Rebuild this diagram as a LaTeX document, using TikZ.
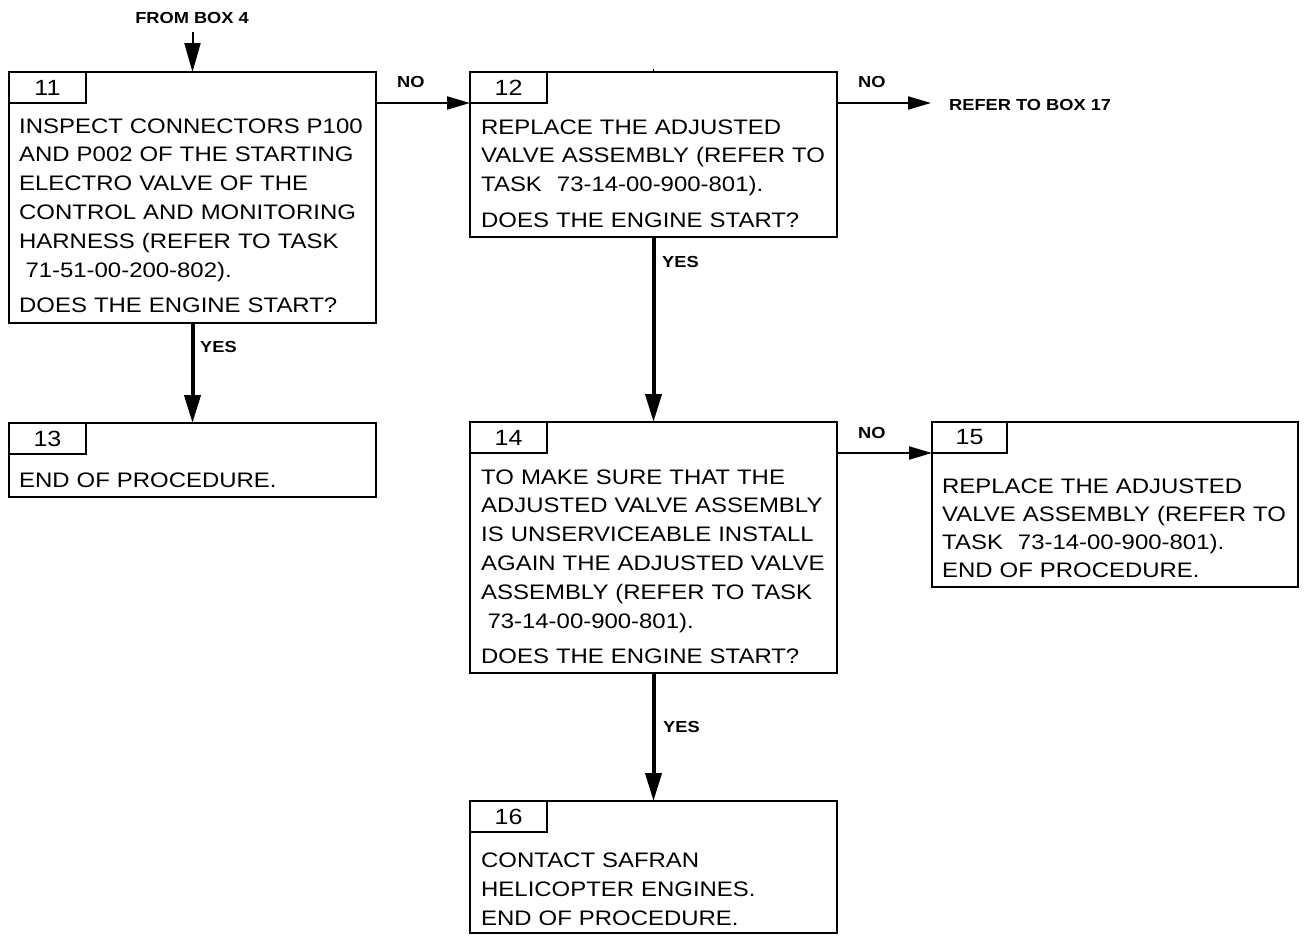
\documentclass[tikz,border=0pt]{standalone}
\usepackage{fontspec}
\setmainfont{Liberation Sans}[FakeStretch=1.14]
\usetikzlibrary{arrows.meta,calc}
\begin{document}
\begin{tikzpicture}[x=1pt,y=-1pt,
  boxframe/.style={draw,line width=2.8pt,anchor=north west,inner sep=0pt,outer sep=0pt,minimum width=367pt},
  numtab/.style={draw,line width=2.8pt,anchor=north west,inner sep=0pt,outer sep=0pt,
    minimum width=77pt,minimum height=31pt,font=\fontsize{22}{24}\selectfont},
  boxtext/.style={anchor=base west,inner sep=0pt,text width=360pt,align=left,
    font=\fontsize{21}{28.8}\selectfont},
  flowlabel/.style={anchor=base west,inner sep=0pt,font=\fontsize{16}{18}\selectfont\bfseries},
  yesarrow/.style={line width=4pt,-{Triangle[length=28pt,width=16pt]}},
  noarrow/.style={line width=2pt,-{Triangle[length=23pt,width=13pt]}},
]
\useasboundingbox (0,0) rectangle (1304,938);

% ---- boxes ----
\node[boxframe,minimum height=251pt] (b11) at (9,72) {};
\node[numtab] (b11n) at (b11.north west) {11};
\node[boxtext] (b11t) at (19,133) {INSPECT CONNECTORS P100\\AND P002 OF THE STARTING\\ELECTRO VALVE OF THE\\CONTROL AND MONITORING\\HARNESS (REFER TO TASK\\\hspace*{0.3em}71-51-00-200-802).\\[7pt]DOES THE ENGINE START?};

\node[boxframe,minimum height=165pt] (b12) at (470,72) {};
\node[numtab] (b12n) at (b12.north west) {12};
\node[boxtext] (b12t) at (481,134) {REPLACE THE ADJUSTED\\VALVE ASSEMBLY (REFER TO\\TASK\hspace{15pt}73-14-00-900-801).\\[7pt]DOES THE ENGINE START?};

\node[boxframe,minimum height=74pt] (b13) at (9,423) {};
\node[numtab] (b13n) at (b13.north west) {13};
\node[boxtext] (b13t) at (19,487) {END OF PROCEDURE.};

\node[boxframe,minimum height=251pt] (b14) at (470,422) {};
\node[numtab] (b14n) at (b14.north west) {14};
\node[boxtext] (b14t) at (481,484) {TO MAKE SURE THAT THE\\ADJUSTED VALVE ASSEMBLY\\IS UNSERVICEABLE INSTALL\\AGAIN THE ADJUSTED VALVE\\ASSEMBLY (REFER TO TASK\\\hspace*{0.3em}73-14-00-900-801).\\[7pt]DOES THE ENGINE START?};

\node[boxframe,minimum width=366pt,minimum height=165pt] (b15) at (932,422) {};
\node[numtab,minimum width=75pt] (b15n) at (b15.north west) {15};
\node[boxtext,font=\fontsize{21}{28}\selectfont] (b15t) at (942,493) {REPLACE THE ADJUSTED\\VALVE ASSEMBLY (REFER TO\\TASK\hspace{15pt}73-14-00-900-801).\\END OF PROCEDURE.};

\node[boxframe,minimum height=132pt] (b16) at (470,801) {};
\node[numtab] (b16n) at (b16.north west) {16};
\node[boxtext,font=\fontsize{21}{29}\selectfont] (b16t) at (481,867) {CONTACT SAFRAN\\HELICOPTER ENGINES.\\END OF PROCEDURE.};

% small stub above box 12
\draw[line width=1.5pt] (b12.north) -- ++(0,-3);

% ---- entry and exit ----
\node[flowlabel,anchor=base] (from4) at (192,23) {FROM BOX 4};
\coordinate (from4end) at (192.5,32);
\draw[line width=2pt,-{Triangle[length=29pt,width=16pt]}] (from4end) -- (from4end |- b11.north);

\node[flowlabel] (ref17) at (949,110) {REFER TO BOX 17};
\coordinate (ref17tip) at (931,103);

% ---- connectors ----
\draw[noarrow] (b11.east |- b11n.south) -- (b12n.south west);
\node[flowlabel] (no1) at (397,87) {NO};

\draw[noarrow] (b12.east |- b12n.south) -- (ref17tip);
\node[flowlabel] (no2) at (858,87) {NO};

\draw[yesarrow] (b11.south) -- (b13.north);
\node[flowlabel] (yes1) at (200,352) {YES};

\draw[yesarrow] (b12.south) -- (b14.north);
\node[flowlabel] (yes2) at (662,267) {YES};

\draw[noarrow] (b14.east |- b14n.south) -- (b15n.south west);
\node[flowlabel] (no3) at (858,438) {NO};

\draw[yesarrow] (b14.south) -- (b16.north);
\node[flowlabel] (yes3) at (663,732) {YES};
\end{tikzpicture}
\end{document}
